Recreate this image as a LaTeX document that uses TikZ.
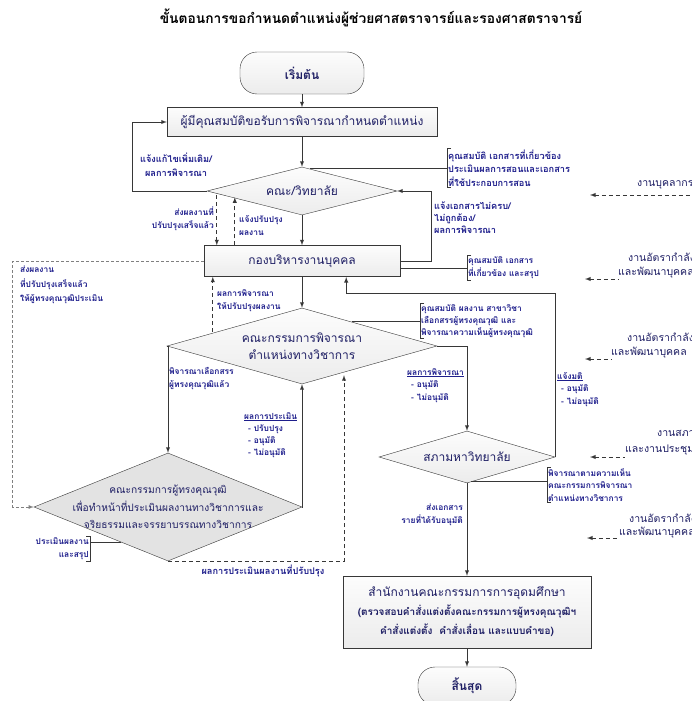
\documentclass[tikz,border=0pt]{standalone}
\usepackage{fontspec}
\setmainfont[Script=Thai]{Loma}
\usepackage{tikz}
\usetikzlibrary{positioning,shapes.geometric,arrows}
\definecolor{navy}{RGB}{30,30,100}
\definecolor{notecol}{RGB}{30,30,140}
\definecolor{linecol}{RGB}{55,55,55}
\tikzstyle{pale} = [top color=gray!2, bottom color=gray!15]
\tikzstyle{block} = [draw=linecol, rectangle, pale, text=navy, font=\fontsize{12}{16}\selectfont]
\tikzstyle{terminal} = [draw=linecol, rectangle, rounded corners=17pt, pale, text=navy, font=\bfseries\fontsize{12}{16}\selectfont]
\tikzstyle{decision} = [draw=linecol, diamond, inner sep=0pt]
\tikzstyle{inside} = [align=center, text=navy, font=\fontsize{12}{17}\selectfont]
\tikzstyle{note} = [align=left, text=notecol, inner sep=1pt, font=\bfseries\fontsize{8.4}{13}\selectfont]
\tikzstyle{bignote} = [note, font=\bfseries\fontsize{9.2}{13.5}\selectfont]
\tikzstyle{side} = [anchor=west, text=navy, inner sep=0pt, font=\fontsize{10.5}{14}\selectfont]
\tikzstyle{conn} = [draw=linecol, line width=0.9pt]
\tikzstyle{dline} = [conn, dash pattern=on 4pt off 3pt]
\tikzstyle{gline} = [draw=gray, line width=0.8pt, dash pattern=on 3pt off 2pt]

\begin{document}
\begin{tikzpicture}[x=1pt, y=-1pt, >=latex, node distance=50pt]
\useasboundingbox (0,0) rectangle (691,701);
\fill [white] (0,0) rectangle (691,701);

\node [font=\bfseries\fontsize{13.8}{16}\selectfont] (title) at (371,18) {ขั้นตอนการขอกำหนดตำแหน่งผู้ช่วยศาสตราจารย์และรองศาสตราจารย์};

\node [terminal, minimum width=124pt, minimum height=42pt] (start) at (302,73) {เริ่มต้น};
\node [block, below of=start, node distance=49pt, minimum width=270pt, minimum height=29pt] (apply) {ผู้มีคุณสมบัติขอรับการพิจารณากำหนดตำแหน่ง};
\node [decision, pale, below of=apply, node distance=69pt, minimum width=190pt, minimum height=48pt] (faculty) {};
\node [inside] (facultytxt) at (faculty) {คณะ/วิทยาลัย};
\node [block, below of=faculty, node distance=70pt, minimum width=196pt, minimum height=31pt] (hr) {กองบริหารงานบุคคล};
\node [decision, pale, below of=hr, node distance=85pt, minimum width=270pt, minimum height=76pt] (committee) {};
\node [inside] (committeetxt) at (committee) {คณะกรรมการพิจารณา\\ตำแหน่งทางวิชาการ};
\node [decision, fill=gray!22, below of=committee, node distance=161pt, xshift=-134pt, minimum width=268pt, minimum height=108pt] (peer) {};
\node [inside, font=\fontsize{10.2}{17.5}\selectfont] (peertxt) at (peer) {คณะกรรมการผู้ทรงคุณวุฒิ\\เพื่อทำหน้าที่ประเมินผลงานทางวิชาการและ\\จริยธรรมและจรรยาบรรณทางวิชาการ};
\node [decision, pale, below of=committee, node distance=111pt, xshift=165pt, minimum width=176pt, minimum height=52pt] (council) {};
\node [inside] (counciltxt) at (council) {สภามหาวิทยาลัย};
\node [block, below of=council, node distance=155pt, minimum width=248pt, minimum height=72pt, align=center, font=\bfseries\fontsize{10}{19}\selectfont] (ohec) {{\mdseries\fontsize{12}{19}\selectfont สำนักงานคณะกรรมการการอุดมศึกษา}\\(ตรวจสอบคำสั่งแต่งตั้งคณะกรรมการผู้ทรงคุณวุฒิฯ\\คำสั่งแต่งตั้ง\ \ คำสั่งเลื่อน และแบบคำขอ)};
\node [terminal, below of=ohec, node distance=74pt, minimum width=98pt, minimum height=38pt] (finish) {สิ้นสุด};

\node [bignote, align=center] (fixlbl) at (176,165) {แจ้งแก้ไขเพิ่มเติม/\\ผลการพิจารณา};
\node [note, anchor=east, align=right] (sentlbl) at (215,219) {ส่งผลงานที่\\ปรับปรุงเสร็จแล้ว};
\node [note, anchor=west] (revlbl) at (238,226) {แจ้งปรับปรุง\\ผลงาน};
\node [bignote, anchor=north west, font=\bfseries\fontsize{9.2}{12}\selectfont] (docslbl) at (433,201) {แจ้งเอกสารไม่ครบ/\\ไม่ถูกต้อง/\\ผลการพิจารณา};
\node [note, anchor=north west, font=\bfseries\fontsize{8.4}{14.5}\selectfont] (looplbl) at (19,265) {ส่งผลงาน\\ที่ปรับปรุงเสร็จแล้ว\\ให้ผู้ทรงคุณวุฒิประเมิน};
\node [note, anchor=north west] (reslbl) at (216,288) {ผลการพิจารณา\\ให้ปรับปรุงผลงาน};
\node [note, anchor=north west] (sellbl) at (168,366) {พิจารณาเลือกสรร\\ผู้ทรงคุณวุฒิแล้ว};
\node [note, anchor=north west, font=\bfseries\fontsize{8.4}{12.3}\selectfont] (evallbl) at (243,411) {\underline{ผลการประเมิน}\\\hspace*{4pt}- ปรับปรุง\\\hspace*{4pt}- อนุมัติ\\\hspace*{4pt}- ไม่อนุมัติ};
\node [bignote] (imprlbl) at (263,571) {ผลการประเมินผลงานที่ปรับปรุง};
\node [note, anchor=north west, font=\bfseries\fontsize{8.4}{12.5}\selectfont] (decilbl) at (406,367) {\underline{ผลการพิจารณา}\\\hspace*{4pt}- อนุมัติ\\\hspace*{4pt}- ไม่อนุมัติ};
\node [note, anchor=north west, font=\bfseries\fontsize{8.4}{12.5}\selectfont] (votelbl) at (556,371) {\underline{แจ้งมติ}\\\hspace*{4pt}- อนุมัติ\\\hspace*{4pt}- ไม่อนุมัติ};
\node [note, anchor=north east, align=right] (sendlbl) at (464,503) {ส่งเอกสาร\\รายที่ได้รับอนุมัติ};

\node [bignote, anchor=west] (noteA) at (447,168) {คุณสมบัติ เอกสารที่เกี่ยวข้อง\\ประเมินผลการสอนและเอกสาร\\ที่ใช้ประกอบการสอน};
\node [note, anchor=west] (noteB) at (467,268) {คุณสมบัติ เอกสาร\\ที่เกี่ยวข้อง และสรุป};
\node [note, anchor=west, font=\bfseries\fontsize{8.4}{12}\selectfont] (noteC) at (420,321) {คุณสมบัติ ผลงาน สาขาวิชา\\เลือกสรรผู้ทรงคุณวุฒิ และ\\พิจารณาความเห็นผู้ทรงคุณวุฒิ};
\node [note, anchor=west, font=\bfseries\fontsize{8.4}{12.5}\selectfont] (noteD) at (547,485) {พิจารณาตามความเห็น\\คณะกรรมการพิจารณา\\ตำแหน่งทางวิชาการ};
\node [note, anchor=east, align=right] (noteE) at (90,549) {ประเมินผลงาน\\และสรุป};

\node [side] (staff) at (637,185) {งานบุคลากร};
\node [side] (rate1a) at (628,257) {งานอัตรากำลัง};
\node [side] (rate1b) at (618,273) {และพัฒนาบุคคล};
\node [side] (rate2a) at (627,337) {งานอัตรากำลัง};
\node [side] (rate2b) at (611,353) {และพัฒนาบุคคล};
\node [side] (meeta) at (657,433) {งานสภา};
\node [side] (meetb) at (625,450) {และงานประชุม};
\node [side] (rate3a) at (629,518) {งานอัตรากำลัง};
\node [side] (rate3b) at (619,533) {และพัฒนาบุคคล};
\coordinate (stafftip) at (590,195);
\coordinate (rate1tip) at (585,279);
\coordinate (rate2tip) at (585,359);
\coordinate (meettip) at (590,457);
\coordinate (rate3tip) at (587,538);

\draw [conn,->] (start) -- (apply);
\draw [conn,->] (apply) -- (faculty);
\draw [conn,->] (faculty) -- (hr);
\draw [conn,->] (faculty.west) -- ++(-74,0) |- (apply.west);
\draw [conn,->] (hr.east) -- ++(31,0) |- (faculty.east);
\draw [dline,->] (hr.north west) ++(13,-50) -- ++(0,50);
\draw [dline,->] (hr.north west) ++(31,0) -- ++(0,-48);
\draw [conn,->] (hr) -- (committee);
\draw [dline,->] (hr.south west) ++(9,55) -- ++(0,-55);
\draw [gline,->] (hr.west) -- ++(-191,0) |- (peer.west);
\draw [conn,->] (committee.west) -| (peer.north);
\draw [conn,->] (peer.east) -| (committee.south);
\draw [dline,->] (peer.south) -- ++(176,0) -- ++(0,-186);
\draw [conn,->] (committee.east) -| (council.north);
\draw [conn,->] (council.east) -- ++(0,-164) -- ++(-209,0) -- ++(0,-16);
\draw [conn,->] (council) -- (ohec);
\draw [conn,->] (ohec) -- (finish);

\draw [conn] ([xshift=4pt]noteA.north west) -| (noteA.south west) -- ++(4,0);
\draw [conn] (faculty.70 |- noteA.west) -- (noteA.west);
\draw [conn] ([xshift=4pt]noteB.north west) -| (noteB.south west) -- ++(4,0);
\draw [conn] (hr.east |- noteB.west) -- (noteB.west);
\draw [conn] ([xshift=4pt]noteC.north west) -| (noteC.south west) -- ++(4,0);
\draw [conn] (committee.26 |- noteC.west) -- (noteC.west);
\draw [conn] ([xshift=4pt]noteD.north west) -| (noteD.south west) -- ++(4,0);
\draw [conn] (council.-80) -- (council.-80 -| noteD.west);
\draw [conn] ([xshift=-4pt]noteE.north east) -| (noteE.south east) -- ++(-4,0);
\draw [conn] (peer.217) -- (peer.217 -| noteE.east);

\draw [dline,<-] (stafftip) -- ++(110,0);
\draw [dline,<-] (rate1tip) -- (rate1tip -| rate1b.west);
\draw [dline,<-] (rate2tip) -- (rate2tip -| rate2b.west);
\draw [dline,<-] (meettip) -- (meettip -| meetb.west);
\draw [dline,<-] (rate3tip) -- (rate3tip -| rate3b.west);

\end{tikzpicture}
\end{document}
